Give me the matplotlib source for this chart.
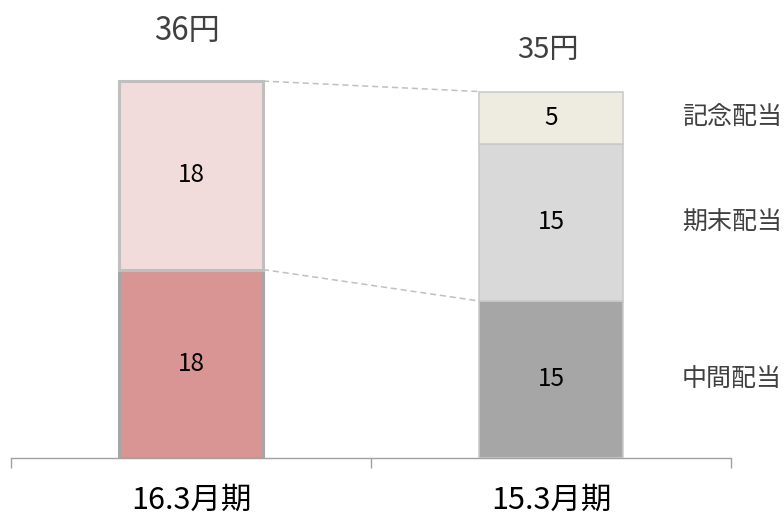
#!/usr/bin/env python

# import libraries
import matplotlib
matplotlib.use("Agg")
import matplotlib.pyplot as plt

plt.rcParams['font.family'] = ['Noto Sans CJK JP', 'DejaVu Sans']

# chart data
periods = ["16.3月期", "15.3月期"]
interim = [18, 15]
year_end = [18, 15]
commemorative = [0, 5]
total_labels = ["36円", "35円"]
series_names = ["中間配当", "期末配当", "記念配当"]

# colours per bar (left = current year, right = previous year)
interim_colors = ["#d99594", "#a6a6a6"]
year_end_colors = ["#f2dcdb", "#d9d9d9"]
comm_colors = ["#eeece1", "#eeece1"]

fig = plt.figure(figsize=(7.84, 5.19), dpi=100)
ax = fig.add_axes([11 / 784, 61 / 519, 720 / 784, 458 / 519])

x = list(range(len(periods)))
width = 0.4
tops1 = [a + b for a, b in zip(interim, year_end)]
totals = [a + b + c for a, b, c in zip(interim, year_end, commemorative)]

# left bar has thicker edges than the right one
edge_w = [2.2, 1.1]
edge_c1 = ["#a6a6a6", "#c8c8c8"]
edge_c2 = ["#bfbfbf", "#c8c8c8"]
for i in x:
    ax.bar(i, interim[i], width, color=interim_colors[i], edgecolor=edge_c1[i], linewidth=edge_w[i], zorder=3)
    ax.bar(i, year_end[i], width, bottom=interim[i], color=year_end_colors[i], edgecolor=edge_c2[i], linewidth=edge_w[i], zorder=3)
    if commemorative[i] > 0:
        ax.bar(i, commemorative[i], width, bottom=tops1[i], color=comm_colors[i], edgecolor=edge_c2[i], linewidth=edge_w[i], zorder=3)

    # numbers inside segments
    ax.text(i, interim[i] / 2, str(interim[i]), ha="center", va="center", fontsize=17.5, color="black", zorder=4)
    ax.text(i, interim[i] + year_end[i] / 2, str(year_end[i]), ha="center", va="center", fontsize=17.5, color="black", zorder=4)
    if commemorative[i] > 0:
        ax.text(i, tops1[i] + commemorative[i] / 2, str(commemorative[i]), ha="center", va="center", fontsize=17.5, color="black", zorder=4)

# total labels above the bars
ax.annotate(total_labels[0], (0, totals[0]), xytext=(-3, 36), textcoords="offset points",
            ha="center", va="center", fontsize=22.5, color="#404040")
ax.annotate(total_labels[1], (1, totals[1]), xytext=(-2, 30), textcoords="offset points",
            ha="center", va="center", fontsize=21, color="#404040")

# dashed connectors between the bars
ax.plot([width / 2, 1 - width / 2], [totals[0], totals[1]], ls=(0, (4, 2.5)), color="#c0c0c0", lw=1.1, zorder=2)
ax.plot([width / 2, 1 - width / 2], [interim[0], interim[1]], ls=(0, (4, 2.5)), color="#c0c0c0", lw=1.1, zorder=2)

# series names next to the right bar
seg_mid = [interim[1] / 2, interim[1] + year_end[1] / 2, tops1[1] + commemorative[1] / 2]
for name, ym in zip(series_names, seg_mid):
    ax.text(1.364, ym, name, ha="left", va="center", fontsize=18, color="#404040")

ax.set_xlim(-0.5, 1.5)
ax.set_ylim(0, 458 / 10.47)
for s in ["top", "right", "left"]:
    ax.spines[s].set_visible(False)
ax.spines["bottom"].set_color("#a0a0a0")
ax.spines["bottom"].set_linewidth(1.0)
ax.set_yticks([])
ax.set_xticks(x)
ax.set_xticklabels(periods, fontsize=22)
ax.tick_params(axis="x", which="major", length=0, pad=19)
ax.set_xticks([-0.5, 0.5, 1.5], minor=True)
ax.tick_params(axis="x", which="minor", length=7.5, width=1.0, color="#a0a0a0", direction="out")

plt.savefig("out.png", dpi=100)
